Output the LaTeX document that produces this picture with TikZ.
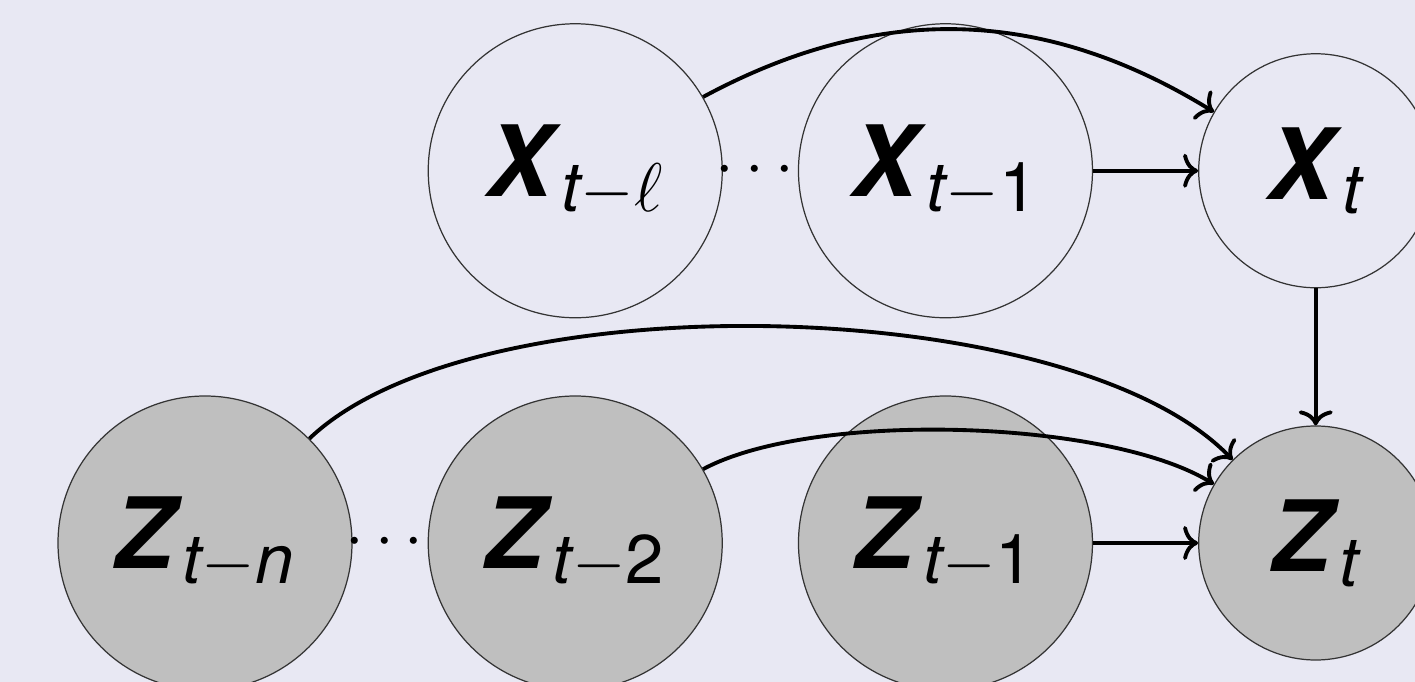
\RequirePackage{fix-cm}
\documentclass[tikz,border=0pt]{standalone}
\usepackage{amsmath}
\usepackage{fontspec}
\setsansfont{TeX Gyre Heros}
\usetikzlibrary{
    positioning,
    arrows.meta,
    calc
}

\definecolor{slidebg}{RGB}{232,232,243}
\definecolor{obsgray}{RGB}{191,191,191}

% bold italic variable with a subscript
\newcommand{\rvar}[2]{\textbf{\textit{#1}}$_{#2}$}
\newcommand{\sit}[1]{\text{\sffamily\itshape #1}}
\newcommand{\sfup}[1]{\text{\sffamily\upshape #1}}

\begin{document}
\begin{tikzpicture}[
    font=\sffamily\fontsize{28}{32}\selectfont,
    latent/.style={
        circle, draw=black!80, line width=0.35pt, fill=slidebg,
        minimum size=29.4mm, inner sep=0pt
    },
    latentsmall/.style={
        latent, minimum size=23.4mm
    },
    obs/.style={
        latent, fill=obsgray
    },
    obssmall/.style={
        latentsmall, fill=obsgray
    },
    dotlabel/.style={
        inner sep=0pt, font=\fontsize{19}{22}\selectfont
    },
    arr/.style={-{To[length=1.5mm, width=3.4mm]}, line width=1.1pt}
]

% Background and crop
\fill[slidebg] (0,0) rectangle (14.15,-6.82);
\clip (0,0) rectangle (14.15,-6.82);

% Observed row
\node[obs] (Ztn) at (2.05,-5.43) {\rvar{Z}{\sit{t}-\sit{n}}};
\node[obs, right=7.5mm of Ztn] (Zt2) {\rvar{Z}{\sit{t}-\sfup{2}}};
\node[obs, right=7.5mm of Zt2] (Zt1) {\rvar{Z}{\sit{t}-\sfup{1}}};
\node[obssmall, right=10.5mm of Zt1] (Zt) {\rvar{Z}{\sit{t}}};

% Latent row
\node[latent, above=7.7mm of Zt2] (Xtl) {\rvar{X}{\sit{t}-\ell}};
\node[latent, above=7.7mm of Zt1] (Xt1) {\rvar{X}{\sit{t}-\sfup{1}}};
\node[latentsmall, above=13.7mm of Zt] (Xt) {\rvar{X}{\sit{t}}};

% Dots
\node[dotlabel] (xdots) at ($(Xtl)!0.5!(Xt1)$) {$\cdots$};
\node[dotlabel] (zdots) at ($(Ztn)!0.5!(Zt2)$) {$\cdots$};

% Arrows
\draw[arr] (Xtl) to[bend left=30] (Xt);
\draw[arr] (Xt1) -- (Xt);
\draw[arr] (Xt) -- (Zt);
\draw[arr] (Ztn) to[bend left=45, looseness=0.64] (Zt);
\draw[arr] (Zt2) to[bend left=30, looseness=0.62] (Zt);
\draw[arr] (Zt1) -- (Zt);

\end{tikzpicture}
\end{document}
